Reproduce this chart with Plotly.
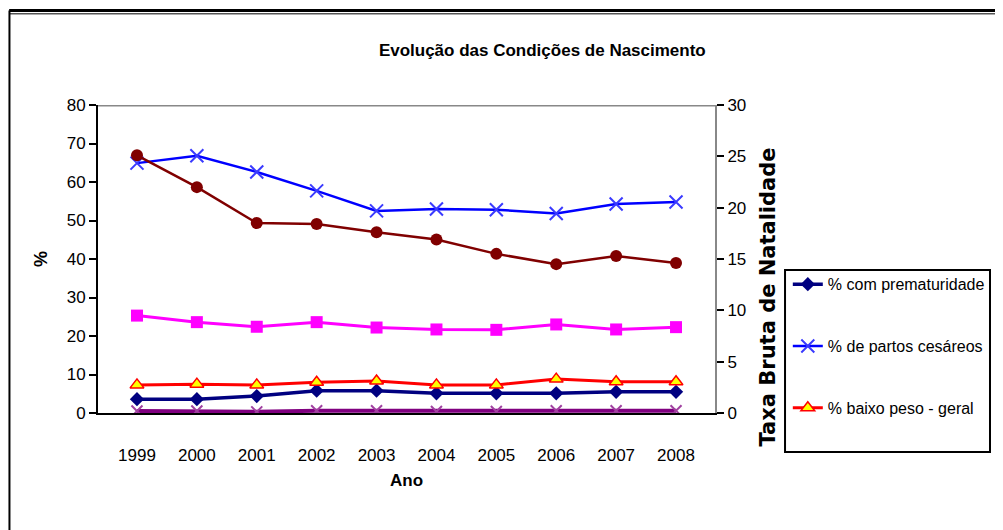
import plotly.graph_objects as go

FONT = "Liberation Sans Narrow, Arial Narrow, Liberation Sans, Arial"

anos = ["1999", "2000", "2001", "2002", "2003", "2004", "2005", "2006", "2007", "2008"]

prematuridade = [3.6, 3.6, 4.4, 5.8, 5.8, 5.1, 5.1, 5.1, 5.5, 5.5]
partos_cesareos = [64.9, 66.8, 62.6, 57.7, 52.5, 53.0, 52.8, 51.8, 54.3, 54.8]
baixo_peso = [7.3, 7.5, 7.3, 8.0, 8.3, 7.3, 7.3, 8.8, 8.1, 8.1]
serie_magenta = [25.3, 23.6, 22.4, 23.6, 22.2, 21.7, 21.6, 23.0, 21.7, 22.3]
serie_roxa = [0.5, 0.5, 0.3, 0.6, 0.6, 0.4, 0.4, 0.6, 0.6, 0.6]
taxa_natalidade = [25.1, 22.0, 18.5, 18.4, 17.6, 16.9, 15.5, 14.5, 15.3, 14.6]

fig = go.Figure()

# hidden from legend (the original legend is cut off after three entries)
fig.add_trace(go.Scatter(
    x=anos, y=serie_roxa, name="% série roxa", mode="lines+markers",
    line=dict(color="#800080", width=4),
    marker=dict(symbol="x-thin", size=11, line=dict(color="#a040a0", width=2)),
    showlegend=False,
))
fig.add_trace(go.Scatter(
    x=anos, y=serie_magenta, name="% série magenta", mode="lines+markers",
    line=dict(color="#ff00ff", width=3),
    marker=dict(symbol="square", size=12, color="#ff00ff"),
    showlegend=False,
))
fig.add_trace(go.Scatter(
    x=anos, y=taxa_natalidade, name="Taxa Bruta de Natalidade", mode="lines+markers",
    line=dict(color="#800000", width=2.5),
    marker=dict(symbol="circle", size=12, color="#800000"),
    yaxis="y2", showlegend=False,
))

fig.add_trace(go.Scatter(
    x=anos, y=prematuridade, name="% com prematuridade", mode="lines+markers",
    line=dict(color="#000080", width=3.5),
    marker=dict(symbol="diamond", size=11, color="#000080"),
    legendgroup="a",
))
fig.add_trace(go.Scatter(
    x=anos, y=partos_cesareos, name="% de partos cesáreos", mode="lines+markers",
    line=dict(color="#0000ff", width=2.5),
    marker=dict(symbol="x-thin", size=13, line=dict(color="#3a3aff", width=2)),
    legendgroup="b",
))
fig.add_trace(go.Scatter(
    x=anos, y=baixo_peso, name="% baixo peso - geral", mode="lines+markers",
    line=dict(color="#ff0000", width=3),
    marker=dict(symbol="triangle-up", size=12, color="#ffff00",
                line=dict(color="#ff0000", width=1.5)),
    legendgroup="c",
))

# grey line at the top of the plot area, as in the original
fig.add_shape(type="line", xref="paper", yref="y", x0=0, x1=1, y0=80, y1=80,
              line=dict(color="#888888", width=3))
# outer frame of the picture
fig.add_shape(type="line", xref="paper", yref="paper", x0=-0.144, x1=1.6, y0=1.307, y1=1.307,
              line=dict(color="black", width=3))
fig.add_shape(type="line", xref="paper", yref="paper", x0=-0.144, x1=1.6, y0=1.296, y1=1.296,
              line=dict(color="black", width=1))
fig.add_shape(type="line", xref="paper", yref="paper", x0=-0.1435, x1=-0.1435, y0=1.307, y1=-0.5,
              line=dict(color="black", width=2))
# legend box
fig.add_shape(type="rect", xref="paper", yref="paper", x0=1.1135, x1=1.4457, y0=0.464, y1=-0.127,
              line=dict(color="black", width=2), fillcolor="rgba(0,0,0,0)")

# right axis title placed like the original (lower than the axis centre)
fig.add_annotation(
    text="<b>Taxa Bruta de Natalidade</b>", textangle=-90,
    xref="paper", yref="paper", x=1.108, y=0.377, showarrow=False,
    font=dict(size=21, family="DejaVu Sans", color="black"),
)

fig.update_layout(
    width=995, height=522,
    paper_bgcolor="white", plot_bgcolor="white",
    font=dict(family=FONT, color="black", size=16),
    margin=dict(l=90, r=288, t=97, b=117),
    title=dict(text="<b>Evolução das Condições de Nascimento</b>", x=0.537, xanchor="center",
               y=0.92, yanchor="middle", font=dict(size=17, family=FONT)),
    xaxis=dict(
        title=dict(text="<b>Ano</b>", font=dict(size=17), standoff=10),
        showline=True, linecolor="black", linewidth=2,
        ticks="", ticklabelstandoff=26,
        tickfont=dict(size=17),
        showgrid=False, zeroline=False,
    ),
    yaxis=dict(
        title=dict(text="<b>%</b>", font=dict(size=18), standoff=14),
        range=[0, 80], dtick=10,
        showline=True, linecolor="black", linewidth=2,
        ticks="outside", ticklen=7, tickwidth=2, tickcolor="black",
        tickfont=dict(size=17),
        showgrid=False, zeroline=False,
    ),
    yaxis2=dict(
        range=[0, 30], dtick=5, overlaying="y", side="right",
        showline=True, linecolor="#888888", linewidth=2,
        ticks="outside", ticklen=7, tickwidth=2, tickcolor="black",
        tickfont=dict(size=17),
        showgrid=False, zeroline=False,
    ),
    legend=dict(
        x=1.118, y=0.473, xanchor="left", yanchor="top",
        borderwidth=0, bgcolor="rgba(0,0,0,0)",
        font=dict(size=16, family=FONT),
        tracegroupgap=38, itemwidth=30,
    ),
)

fig.write_html("out.html")
